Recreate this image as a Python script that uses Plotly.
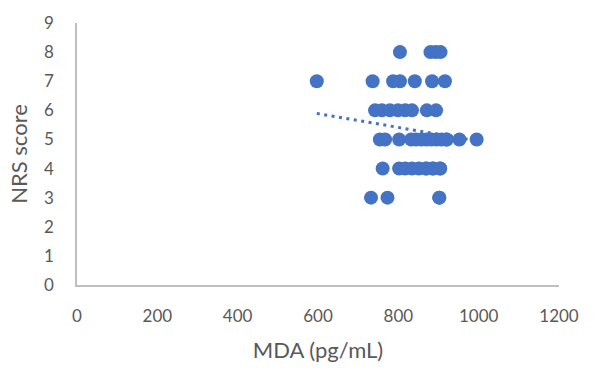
import numpy as np
import plotly.graph_objects as go

# MDA (pg/mL) and NRS score, one entry per patient
# (several patients share identical values, so some markers sit on top of each other)
mda = [
    804, 880, 893, 905,                                   # NRS 8
    597, 736, 787, 804, 841, 884, 916,                    # NRS 7
    742, 759, 779, 799, 817, 834, 871, 894,               # NRS 6
    754, 767, 802, 832, 844, 857, 870, 882, 895, 907, 920, 920, 952, 995,  # NRS 5
    761, 802, 817, 834, 851, 869, 869, 886, 886, 904, 904,  # NRS 4
    732, 773, 902, 902,                                   # NRS 3
]
nrs = (
    [8] * 4 + [7] * 7 + [6] * 8 + [5] * 14 + [4] * 11 + [3] * 4
)

x_ticks = [0, 200, 400, 600, 800, 1000, 1200]
y_ticks = list(range(0, 10))

BLUE = "#4472C4"
GREY_TXT = "#595959"
AXIS_LINE = "#BFBFBF"
FONT = "Lato, Carlito, 'Liberation Sans', sans-serif"

# linear trendline fitted to the data
slope, intercept = np.polyfit(mda, nrs, 1)
trend_x = np.array([min(mda), max(mda)])
trend_y = slope * trend_x + intercept

fig = go.Figure()
fig.add_trace(go.Scatter(
    x=trend_x, y=trend_y, mode="lines",
    line=dict(color=BLUE, width=3, dash="3px,4.5px"),
    hoverinfo="skip", showlegend=False,
))
fig.add_trace(go.Scatter(
    x=mda, y=nrs, mode="markers",
    marker=dict(color=BLUE, size=14, line=dict(width=0)),
    showlegend=False,
))

fig.update_layout(
    width=598, height=371,
    margin=dict(l=77, r=39, t=18, b=85),
    paper_bgcolor="white", plot_bgcolor="white",
    font=dict(family=FONT, color=GREY_TXT, size=17),
)
fig.update_xaxes(
    range=[0, 1200], tickvals=x_ticks, ticktext=[str(v) for v in x_ticks],
    showgrid=False, zeroline=False,
    showline=True, linecolor=AXIS_LINE, linewidth=1.5,
    ticks="", ticklabelstandoff=15,
    tickfont=dict(size=17, color=GREY_TXT),
    title=dict(text="MDA (pg/mL)", font=dict(size=22, color=GREY_TXT), standoff=17),
)
fig.update_yaxes(
    range=[0, 9], tickvals=y_ticks, ticktext=[str(v) for v in y_ticks],
    showgrid=False, zeroline=False,
    showline=True, linecolor=AXIS_LINE, linewidth=1.5,
    ticks="", ticklabelstandoff=18,
    tickfont=dict(size=17, color=GREY_TXT),
    title=dict(text="NRS score", font=dict(size=22, color=GREY_TXT), standoff=10),
)

fig.write_html("out.html")
